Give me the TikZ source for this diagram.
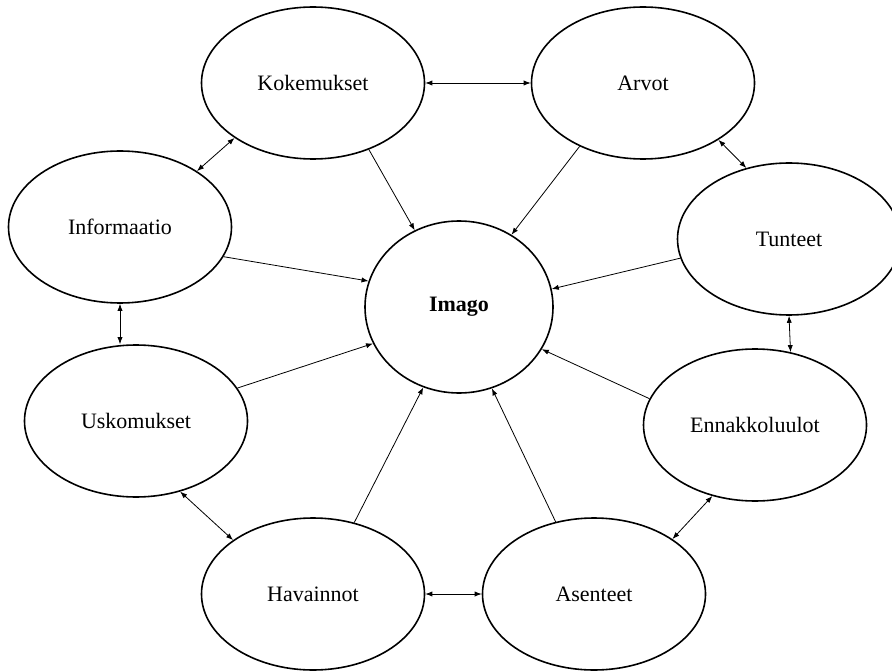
\documentclass[tikz,border=0pt]{standalone}
\usepackage{fontspec}
\setmainfont{Liberation Serif}
\usetikzlibrary{shapes.geometric, arrows.meta}
\tikzset{>={Latex[length=3.5pt,width=2.6pt]}}
\tikzset{concept/.style={ellipse, draw, line width=0.8pt, inner sep=0pt,
    minimum width=111.5pt, minimum height=76pt, font=\fontsize{11}{13}\selectfont},
  link/.style={<->, line width=0.4pt},
  feed/.style={->, line width=0.4pt}}

\begin{document}
\begin{tikzpicture}[x=0.5pt, y=0.5pt]
    \useasboundingbox (0,0) rectangle (892,670);
    \node[concept, minimum width=94pt, minimum height=86pt,
      font=\fontsize{11}{13}\selectfont\bfseries] (imago) at (459,363) {Imago};
    \node[concept] (kok) at (313,587) {Kokemukset};
    \node[concept] (arvot) at (643,587) {Arvot};
    \node[concept] (tunteet) at (789,431) {Tunteet};
    \node[concept] (info) at (120,443) {Informaatio};
    \node[concept] (usko) at (136,249) {Uskomukset};
    \node[concept] (hava) at (313,76) {Havainnot};
    \node[concept] (asen) at (594,76) {Asenteet};
    \node[concept] (enna) at (755,245) {Ennakkoluulot};
    \draw[link] (kok.east) -- (arvot.west);
    \draw[link] (kok.-145) -- (info.36);
    \draw[link] (info.south) -- (info.south |- usko.north);
    \draw[link] (usko.-58) -- (hava.146);
    \draw[link] (hava.east) -- (asen.west);
    \draw[link] (asen.35) -- (enna.239);
    \draw[link] (tunteet.south) -- (enna.64);
    \draw[link] (arvot.-37) -- (tunteet.121);
    \draw[feed] (kok.-50) -- (imago.120);
    \draw[feed] (arvot.-135) -- (imago.54);
    \draw[feed] (info.-16) -- (imago.164);
    \draw[feed] (tunteet.-170) -- (imago.11);
    \draw[feed] (usko.18) -- (imago.-157);
    \draw[feed] (hava.60) -- (imago.-114);
    \draw[feed] (asen.118) -- (imago.-68);
    \draw[feed] (enna.166) -- (imago.-27);
\end{tikzpicture}
\end{document}
